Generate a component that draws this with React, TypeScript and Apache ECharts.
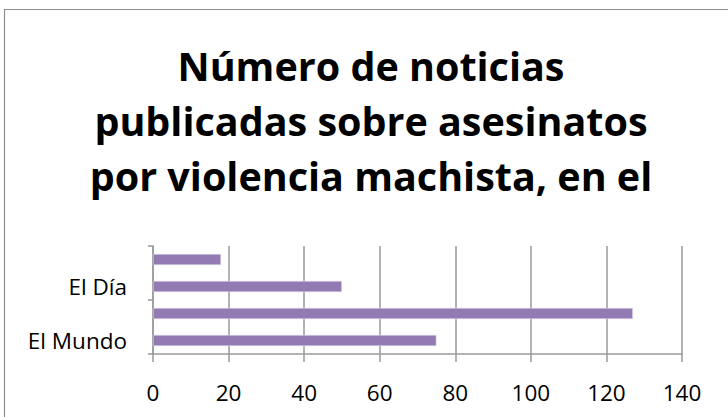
import React, { useEffect, useRef } from "react";
import * as echarts from "echarts";

const titleLines = [
  "Número de noticias",
  "publicadas sobre asesinatos",
  "por violencia machista, en el",
];
const categories = ["El Mundo", "El País", "El Día", "Diario de Avisos"];
const values = [75, 127, 50, 18];
const xMin = 0;
const xMax = 140;
const xInterval = 20;

export default function App() {
  const ref = useRef<HTMLDivElement>(null);
  useEffect(() => {
    document.body.style.margin = "0";
    const chart = echarts.init(ref.current!, null, { renderer: "svg" });
    chart.setOption({
      animation: false,
      backgroundColor: "#ffffff",
      title: {
        text: titleLines.join("\n"),
        left: 366,
        top: 33,
        textAlign: "center",
        textStyle: {
          fontFamily: "Open Sans",
          fontWeight: "bold",
          fontSize: 39.5,
          lineHeight: 55,
          color: "#000000",
        },
      },
      graphic: [
        {
          type: "rect",
          shape: { x: 4.5, y: 9.5, width: 740, height: 430 },
          style: { fill: "none", stroke: "#8e8e8e", lineWidth: 1.2 },
          silent: true,
        },
      ],
      grid: { left: 153, right: 46, top: 246, bottom: 63, containLabel: false },
      xAxis: {
        type: "value",
        min: xMin,
        max: xMax,
        interval: xInterval,
        axisLine: { show: true, lineStyle: { color: "#9a9a9a", width: 1.5 } },
        axisTick: { show: true, length: 8, lineStyle: { color: "#9a9a9a", width: 1.5 } },
        splitLine: { show: true, lineStyle: { color: "#9a9a9a", width: 1.5 } },
        axisLabel: {
          margin: 27,
          fontFamily: "Open Sans",
          fontSize: 22.5,
          color: "#000000",
        },
      },
      yAxis: {
        type: "category",
        data: categories,
        axisLine: { show: true, lineStyle: { color: "#9a9a9a", width: 1.5 } },
        axisTick: { show: true, length: 5, lineStyle: { color: "#9a9a9a", width: 1.5 } },
        axisLabel: {
          interval: 1,
          margin: 26,
          padding: [5, 0, 0, 0],
          fontFamily: "Open Sans",
          fontSize: 22.5,
          color: "#000000",
        },
        splitLine: { show: false },
      },
      series: [
        {
          type: "bar",
          data: values,
          barWidth: 11,
          itemStyle: { color: "#927bb2", borderColor: "#ddd3ea", borderWidth: 0.6 },
        },
      ],
    });
    return () => chart.dispose();
  }, []);
  return (
    <div
      ref={ref}
      style={{ position: "absolute", left: 0, top: 0, width: 728, height: 417 }}
    />
  );
}
